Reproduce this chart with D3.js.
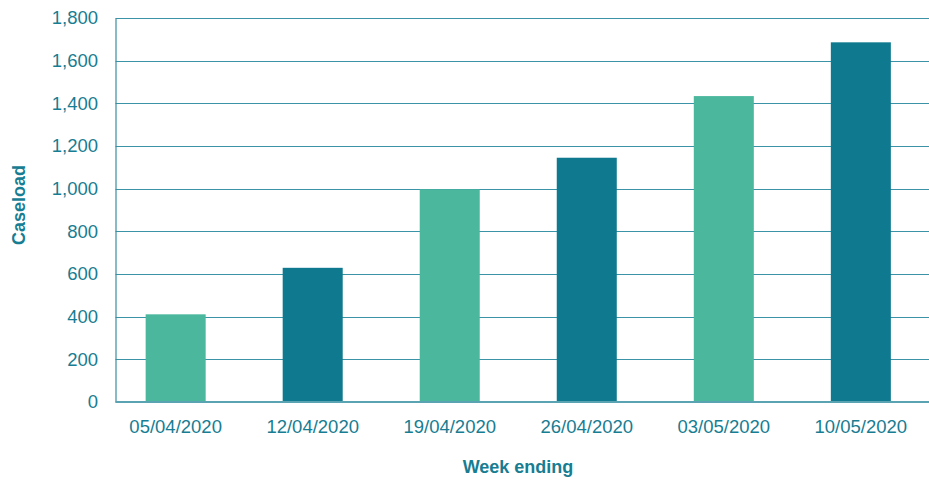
<!DOCTYPE html>
<html><head><meta charset="utf-8">
<script src="https://cdn.jsdelivr.net/npm/d3@7"></script>
<style>body{margin:0;background:#fff;} text{font-family:"Liberation Sans",Arial,sans-serif;}</style>
</head><body>
<svg id="c" width="929" height="480"></svg>
<script>
const categories = ["05/04/2020","12/04/2020","19/04/2020","26/04/2020","03/05/2020","10/05/2020"];
const caseload = [411, 629, 997, 1145, 1434, 1686];
const barColors = ["#4bb89d","#0f7a8f"];
const yTicks = [0,200,400,600,800,1000,1200,1400,1600,1800];

const svg = d3.select("#c");
const plotLeft = 115.5, plotRight = 929, plotTop = 18, plotBottom = 402;
const x = d3.scaleBand().domain(categories).range([plotLeft, 921]).paddingInner(0.562).paddingOuter(0.22);
const y = d3.scaleLinear().domain([0,1800]).range([plotBottom, plotTop]);
const textColor = "#177d92";
const FONT = '"Liberation Sans",Arial,sans-serif';

// gridlines
svg.append("g").selectAll("line").data(yTicks.filter(d=>d>0)).join("line")
  .attr("x1", plotLeft).attr("x2", plotRight)
  .attr("y1", d=>Math.round(y(d))+0.5).attr("y2", d=>Math.round(y(d))+0.5)
  .attr("stroke", "#3a93a7").attr("stroke-width", 1);

// bars
svg.append("g").selectAll("rect").data(categories).join("rect")
  .attr("x", d=>x(d)).attr("width", x.bandwidth())
  .attr("y", (d,i)=>y(caseload[i])).attr("height", (d,i)=>plotBottom - y(caseload[i]))
  .attr("fill", (d,i)=>barColors[i%2]);

// y axis
const yAxis = d3.axisLeft(y).tickValues(yTicks).tickFormat(d3.format(",")).tickSize(0).tickPadding(17.5);
const gy = svg.append("g").attr("transform", `translate(${plotLeft},0)`).call(yAxis);
gy.select(".domain").attr("stroke", "#3a8ea2").attr("stroke-width", 1.2);
gy.selectAll("text").attr("fill", textColor).attr("font-size", 18.5).attr("font-family", FONT);

// x axis
const xAxis = d3.axisBottom(x).tickSize(0).tickPadding(18);
const gx = svg.append("g").attr("transform", `translate(0,${plotBottom})`).call(xAxis);
gx.select(".domain").attr("d", `M${plotLeft},0H${plotRight}`).attr("stroke", "#5aa3b3").attr("stroke-width", 2);
gx.selectAll("text").attr("fill", textColor).attr("font-size", 18.5).attr("font-family", FONT);

// titles
svg.append("text").attr("x", 518).attr("y", 472.5).attr("text-anchor","middle")
  .attr("font-weight","bold").attr("font-size",18).attr("fill", textColor).attr("font-family", FONT).text("Week ending");
svg.append("text").attr("transform","translate(25,205) rotate(-90)").attr("text-anchor","middle")
  .attr("font-weight","bold").attr("font-size",18).attr("fill", textColor).attr("font-family", FONT).text("Caseload");
</script>
</body></html>
